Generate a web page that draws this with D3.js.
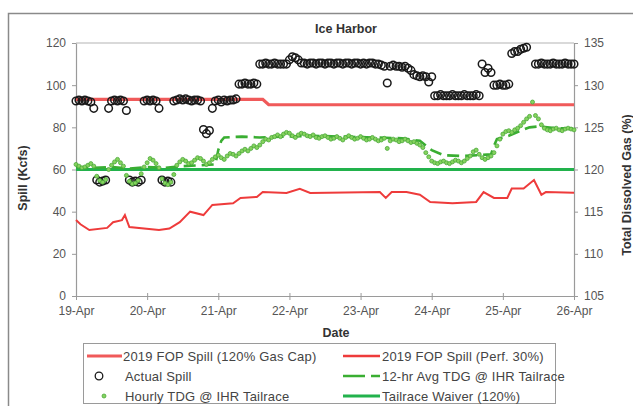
<!DOCTYPE html>
<html><head><meta charset="utf-8">
<script src="https://cdn.jsdelivr.net/npm/d3@7"></script>
<style>body{margin:0;background:#fff}svg{display:block;font-family:"Liberation Sans",Arial,sans-serif}</style>
</head><body><svg id="c" width="633" height="406"></svg>
<script>
// ---- data (hours counted from 19-Apr 00:00) ----
const dayLabels = ["19-Apr","20-Apr","21-Apr","22-Apr","23-Apr","24-Apr","25-Apr","26-Apr"];
const dayHours = [0,24,48,72,96,120,144,168];
const leftTicks = [0,20,40,60,80,100,120];
const rightTicks = [105,110,115,120,125,130,135];

// Actual spill, hourly (kcfs)
const actualSpill = [
 92.5,93,92.5,93,92.5,92,89,55,54,54.5,55,89,
 92.5,93,92.5,93,92.5,88,55,54,54.5,54,55,
 92.5,93,92.5,93,92.5,89,55,54,54.5,54,
 92.5,93,93.5,93,93.5,93,92.5,93,93,92.5,
 79,77,78.5,89,
 92.5,93,92,93,92.5,93,93,93.5,
 100.5,100.5,101,100.5,100.5,101,100.5,
 110,110,110.5,110,110,110.5,110,110,110,110,
 112,113.5,113,112,
 110.5,110.5,110,110.5,110.5,110,110.5,110.5,110,110.5,110.5,110,110.5,110.5,
 110,110.5,110.5,110,110.5,110.5,110,110.5,110,110.5,110.5,110,110,109.5,
 109,101,
 109,109.5,109,109,108.5,109,108,107,
 105,104.5,104,104.5,104,101.5,104,
 95,95,95.5,95,95,95,95.5,95,95,95,95.5,95,95,95,95.5,95,
 110,106,108,106,
 100,100,100.5,100,100,100.5,
 115,116,116,117,117.5,118,
 null,null,
 110,110,110.5,110,110,110,110.5,110,110,110,110.5,110,110,110
];

// Hourly TDG at IHR tailrace (%)
const hourlyTDG = [
 120.6,120.4,120.2,120.3,120.5,120.7,120.4,119.2,118.7,118.5,118.8,120.0,
 120.5,120.9,121.2,120.8,120.4,119.3,118.6,118.3,118.4,118.7,119.5,120.3,
 120.8,121.3,121.1,120.7,120.2,118.9,118.4,118.2,118.5,119.4,120.5,120.9,
 121.2,121.0,120.7,120.8,121.1,121.4,121.3,121.0,120.6,120.8,121.2,121.5,
 121.7,121.4,121.2,121.6,121.9,121.8,121.6,121.9,122.2,122.4,122.2,122.5,
 122.8,122.6,122.9,123.3,123.6,123.5,123.8,123.9,124.1,123.9,124.2,124.4,
 124.3,124.0,123.8,124.1,124.3,124.2,124.0,123.9,124.1,123.8,123.7,123.9,
 124.0,123.8,123.6,123.7,123.9,123.7,123.5,123.8,124.0,123.8,123.6,123.7,
 123.9,123.7,123.5,123.6,123.8,123.6,123.4,123.5,123.7,122.5,123.4,123.6,
 123.5,123.3,123.4,123.6,123.4,123.2,123.3,123.1,122.9,122.6,122.0,121.5,
 121.0,120.8,120.7,120.9,121.0,120.8,120.7,120.9,121.1,121.0,120.8,121.0,
 121.3,121.6,122.1,122.3,121.8,121.4,121.2,121.4,121.6,122.0,122.8,123.6,
 124.2,124.5,124.6,124.4,124.7,124.9,125.2,125.6,126.0,126.3,128.0,126.4,
 126.0,125.3,124.9,124.7,124.6,124.8,124.9,124.7,124.6,124.8,124.9,124.8,124.7
];

// 12-hr average TDG (%)
const avgTDGHours = [0,6,12,18,24,30,36,42,47,48,49,50,56,62,70,80,90,100,110,116,120,124,130,136,140,141,142,146,150,153,156,162,168];
const avgTDG = [120.3,120.2,120.3,120.1,120.3,120.2,120.4,120.5,120.6,122.3,123.4,123.8,123.9,123.8,123.9,124.0,123.9,123.8,123.7,123.4,122.3,121.7,121.6,121.7,121.8,122.8,123.6,124.0,124.6,125.0,125.1,124.9,124.9];

// 2019 FOP Spill (Perf. 30%) (kcfs)
const perfSpillHours = [0,1.5,4.5,10.5,12.5,15.5,16.5,18,28,31.5,35,38.5,43,46,53,55.5,61,63,71,75.5,79,102.5,104.5,106.5,111.5,116,119.5,127,135,137.5,141,145.5,147,151,154.5,157,158.5,168];
const perfSpill = [36,34,31.3,32.3,35,36,38.4,32.7,31.3,32,35,40,38.4,43.2,44,46.5,47,49.3,48.9,50.8,48.9,49.3,46.5,49.3,49.3,48,44.6,44,44.6,49.3,46.5,46.5,51,51,55,48,49.3,49];

// 2019 FOP Spill (120% Gas Cap) (kcfs)
const gasCapHours = [0,63,65,168];
const gasCapSpill = [93.3,93.3,90.7,90.7];

// Tailrace waiver (%)
const waiverHours = [0,168];
const waiverTDG = [120,120];

// ---- drawing ----
const svg = d3.select("#c");
const M = {l:76, r:574, t:43, b:296};
const x = d3.scaleLinear().domain([0,168]).range([M.l,M.r]);
const yL = d3.scaleLinear().domain([0,120]).range([M.b,M.t]);
const yR = d3.scaleLinear().domain([105,135]).range([M.b,M.t]);

svg.append("rect").attr("width",633).attr("height",406).attr("fill","#fff");
svg.append("rect").attr("x",8.5).attr("y",13.5).attr("width",640).attr("height",400)
  .attr("fill","none").attr("stroke","#8a8a8a").attr("stroke-width",1.5);

// plot frame top
svg.append("line").attr("x1",M.l).attr("x2",M.r).attr("y1",M.t).attr("y2",M.t)
  .attr("stroke","#d9d9d9").attr("stroke-width",2);

function styleAxis(g){
  g.selectAll(".domain").attr("stroke","#9a9a9a").attr("stroke-width",1.2);
  g.selectAll(".tick line").attr("stroke","#9a9a9a");
  g.selectAll(".tick text").attr("fill","#555").style("font-size","12px");
}
svg.append("g").attr("transform",`translate(${M.l},0)`)
  .call(d3.axisLeft(yL).tickValues(leftTicks).tickSize(4).tickSizeOuter(0).tickPadding(6)).call(styleAxis);
svg.append("g").attr("transform",`translate(${M.r},0)`)
  .call(d3.axisRight(yR).tickValues(rightTicks).tickSize(4).tickSizeOuter(0).tickPadding(6)).call(styleAxis);
const xa = svg.append("g").attr("transform",`translate(0,${M.b})`)
  .call(d3.axisBottom(x).tickValues(dayHours).tickFormat((d,i)=>dayLabels[i]).tickSize(4).tickSizeOuter(0).tickPadding(6)).call(styleAxis);
xa.selectAll(".tick line").attr("y1",-3);

// titles
svg.append("text").attr("x",346).attr("y",33).attr("text-anchor","middle")
  .style("font-size","12.5px").style("font-weight","bold").attr("fill","#333").text("Ice Harbor");
svg.append("text").attr("transform","translate(27,178) rotate(-90)").attr("text-anchor","middle")
  .style("font-size","12.5px").style("font-weight","bold").attr("fill","#333").text("Spill (Kcfs)");
svg.append("text").attr("transform","translate(631,185) rotate(-90)").attr("text-anchor","middle")
  .style("font-size","12.5px").style("font-weight","bold").attr("fill","#333").text("Total Dissolved Gas (%)");
svg.append("text").attr("x",336).attr("y",337).attr("text-anchor","middle")
  .style("font-size","12.5px").style("font-weight","bold").attr("fill","#333").text("Date");

const plot = svg.append("g");
const lineL = d3.line().x(d=>x(d[0])).y(d=>yL(d[1]));
const lineR = d3.line().x(d=>x(d[0])).y(d=>yR(d[1]));

const RED = "#ee3b3b";
plot.append("path").datum(d3.zip(gasCapHours,gasCapSpill)).attr("d",lineL)
  .attr("fill","none").attr("stroke","#f05a5a").attr("stroke-width",3.2);
plot.append("path").datum(d3.zip(perfSpillHours,perfSpill)).attr("d",lineL)
  .attr("fill","none").attr("stroke",RED).attr("stroke-width",2);
plot.append("path").datum(d3.zip(waiverHours,waiverTDG)).attr("d",lineR)
  .attr("fill","none").attr("stroke","#22b24c").attr("stroke-width",3);
plot.append("path").datum(d3.zip(avgTDGHours,avgTDG)).attr("d",lineR)
  .attr("fill","none").attr("stroke","#3aae32").attr("stroke-width",2.6).attr("stroke-dasharray","12,6");

const spillPts = actualSpill.map((v,i)=>[i,v]).filter(d=>d[1]!=null);
plot.selectAll(".sp").data(spillPts).enter().append("circle").attr("class","sp")
  .attr("cx",d=>x(d[0])).attr("cy",d=>yL(d[1])).attr("r",3.8)
  .attr("fill","none").attr("stroke","#1a1a1a").attr("stroke-width",1.5);

const tdgPts = hourlyTDG.map((v,i)=>[i,v]);
plot.selectAll(".tdg").data(tdgPts).enter().append("circle").attr("class","tdg")
  .attr("cx",d=>x(d[0])).attr("cy",d=>yR(d[1])).attr("r",2)
  .attr("fill","#86d35e").attr("stroke","#4aa83a").attr("stroke-width",0.8);

// legend
const lg = svg.append("g");
lg.append("rect").attr("x",83.5).attr("y",343.5).attr("width",472).attr("height",60)
  .attr("fill","#fff").attr("stroke","#9a9a9a");
const rows = [356,376,396];
const c1 = 87, c2 = 343;
function ltext(xp,yp,t){lg.append("text").attr("x",xp).attr("y",yp).attr("dy","0.35em")
  .style("font-size","13px").style("letter-spacing","0.2px").attr("fill","#444").text(t);}
lg.append("line").attr("x1",c1).attr("x2",c1+35).attr("y1",rows[0]).attr("y2",rows[0]).attr("stroke","#f05a5a").attr("stroke-width",3);
ltext(c1+36,rows[0],"2019 FOP Spill (120% Gas Cap)");
lg.append("line").attr("x1",c2).attr("x2",c2+37).attr("y1",rows[0]).attr("y2",rows[0]).attr("stroke",RED).attr("stroke-width",2.4);
ltext(c2+39,rows[0],"2019 FOP Spill (Perf. 30%)");
lg.append("circle").attr("cx",99).attr("cy",rows[1]).attr("r",3.8).attr("fill","none").attr("stroke","#1a1a1a").attr("stroke-width",1.3);
ltext(125,rows[1],"Actual Spill");
lg.append("line").attr("x1",c2).attr("x2",c2+37).attr("y1",rows[1]).attr("y2",rows[1]).attr("stroke","#3aae32").attr("stroke-width",2.6).attr("stroke-dasharray","22,6");
ltext(c2+39,rows[1],"12-hr Avg TDG @ IHR Tailrace");
lg.append("circle").attr("cx",104).attr("cy",rows[2]).attr("r",2).attr("fill","#86d35e").attr("stroke","#4aa83a").attr("stroke-width",0.8);
ltext(125,rows[2],"Hourly TDG @ IHR Tailrace");
lg.append("line").attr("x1",c2).attr("x2",c2+37).attr("y1",rows[2]).attr("y2",rows[2]).attr("stroke","#22b24c").attr("stroke-width",3);
ltext(c2+39,rows[2],"Tailrace Waiver (120%)");
</script></body></html>
